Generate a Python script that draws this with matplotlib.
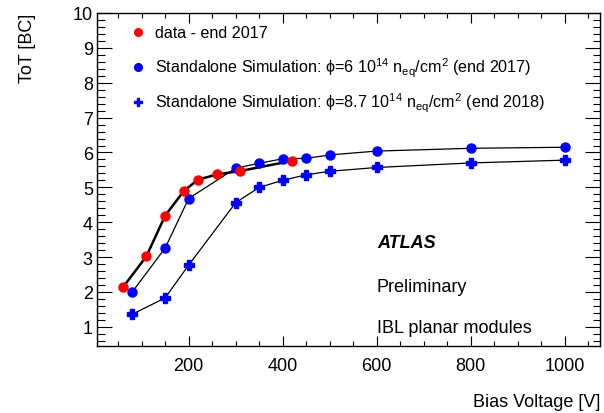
import matplotlib
matplotlib.use('Agg')
import matplotlib.pyplot as plt
from matplotlib.ticker import MultipleLocator

plt.rcParams['font.family'] = ['Liberation Sans', 'DejaVu Sans']
plt.rcParams['mathtext.fontset'] = 'custom'
plt.rcParams['mathtext.rm'] = 'Liberation Sans'
plt.rcParams['mathtext.it'] = 'Liberation Sans:italic'

# data - end 2017
data_v = [60, 110, 150, 190, 220, 260, 310, 420]
data_tot = [2.13, 3.02, 4.19, 4.90, 5.22, 5.37, 5.47, 5.76]

# standalone simulation, phi = 6e14 (end 2017)
sim17_v = [80, 150, 200, 300, 350, 400, 450, 500, 600, 800, 1000]
sim17_tot = [2.0, 3.26, 4.68, 5.55, 5.69, 5.82, 5.83, 5.93, 6.04, 6.12, 6.15]

# standalone simulation, phi = 8.7e14 (end 2018)
sim18_v = [80, 150, 200, 300, 350, 400, 450, 500, 600, 800, 1000]
sim18_tot = [1.36, 1.83, 2.77, 4.56, 5.0, 5.2, 5.36, 5.46, 5.57, 5.70, 5.78]

labels = ['data - end 2017',
          'Standalone Simulation: \u03d5=6 10$^{14}$ n$_{\\rm eq}$/cm$^{2}$ (end 2017)',
          'Standalone Simulation: \u03d5=8.7 10$^{14}$ n$_{\\rm eq}$/cm$^{2}$ (end 2018)']

fig = plt.figure(figsize=(6.04, 4.14), dpi=100)
ax = fig.add_axes([97/604, 1-347/414, 503/604, 333/414])

ax.plot(sim18_v, sim18_tot, color='black', lw=0.9, zorder=2)
ax.plot(sim18_v, sim18_tot, ls='none', marker='P', ms=7, color='#0000ff', mec='#0000ff', zorder=3)
ax.plot(sim17_v, sim17_tot, color='black', lw=0.9, zorder=2)
ax.plot(sim17_v, sim17_tot, ls='none', marker='o', ms=6.5, color='#0000ff', zorder=3)
ax.plot(data_v, data_tot, color='black', lw=1.8, zorder=2)
ax.plot(data_v, data_tot, ls='none', marker='o', ms=6.5, color='#ff0000', zorder=4)

ax.set_xlim(5, 1075)
ax.set_ylim(0.45, 10)

ax.xaxis.set_major_locator(MultipleLocator(200))
ax.xaxis.set_minor_locator(MultipleLocator(50))
ax.yaxis.set_major_locator(MultipleLocator(1))
ax.yaxis.set_minor_locator(MultipleLocator(0.2))
ax.tick_params(which='both', direction='in', top=True, right=True, labelsize=13, width=0.8)
ax.tick_params(axis='x', which='major', length=7.2, pad=8)
ax.tick_params(axis='x', which='minor', length=3.6)
ax.tick_params(axis='y', which='major', length=10.8, pad=3)
ax.tick_params(axis='y', which='minor', length=5.4)
ax.set_xticks([200, 400, 600, 800, 1000])
ax.set_yticks(range(1, 11))
for s in ax.spines.values():
    s.set_linewidth(1.0)

# legend drawn by hand like the ROOT one
leg_y = [33, 68, 103]
leg_style = [dict(marker='o', color='#ff0000', ms=5.5),
             dict(marker='o', color='#0000ff', ms=5.5),
             dict(marker='P', color='#0000ff', ms=5.5)]
for y, lab, st in zip(leg_y, labels, leg_style):
    fy = 1 - y / 414
    fig.lines.append(plt.Line2D([138/604], [fy], transform=fig.transFigure, ls='none', **st))
    fig.text(155/604, fy, lab, fontsize=11.6, va='center', ha='left')

fig.text(377/604, 1-243/414, 'ATLAS', fontsize=13, fontweight='bold', style='italic', va='center')
fig.text(377/604, 1-288/414, 'Preliminary', fontsize=13, va='center')
fig.text(377/604, 1-329/414, 'IBL planar modules', fontsize=13, va='center')

fig.text(600/604, 1-403/414, 'Bias Voltage [V]', fontsize=13, ha='right', va='center')
fig.text(28/604, 1-14/414, 'ToT [BC]', fontsize=13, rotation=90, ha='center', va='top')

fig.savefig('out.png', dpi=100)
